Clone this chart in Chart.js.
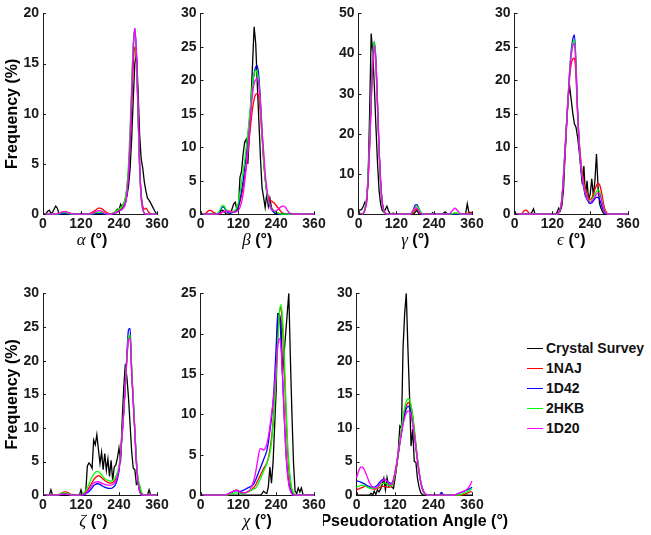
<!DOCTYPE html>
<html><head><meta charset="utf-8">
<script src="https://cdn.jsdelivr.net/npm/chart.js@4.4.1/dist/chart.umd.min.js"></script>
<style>
html,body{margin:0;padding:0;background:#fff}
body{width:651px;height:535px;overflow:hidden;position:relative;font-family:'Liberation Sans',Arial,Helvetica,sans-serif}
canvas{position:absolute;left:0;top:0}
#legend{position:absolute;left:527px;top:338px}
.row{height:20px;display:flex;align-items:center;font-weight:bold;font-size:14px;color:#111;white-space:nowrap}
.sw{width:16px;height:0;border-top:1.4px solid;margin-right:3px}
</style></head><body>
<div id="legend"></div>
<script>
// ---------------- DATA ----------------
const angles = [0,5,10,15,20,25,30,35,40,45,50,55,
  60,65,70,75,80,85,90,95,100,105,110,115,
  120,125,130,135,140,145,150,155,160,165,170,175,
  180,185,190,195,200,205,210,215,220,225,230,235,
  240,245,250,255,260,265,270,275,280,285,290,295,
  300,305,310,315,320,325,330,335,340,345,350,355,
  360];
const seriesNames = ['Crystal Survey','1NAJ','1D42','2HKB','1D20'];
const seriesColors = ['#000000','#ff0000','#0000ff','#00ff00','#ff00ff'];
const xTickValues = [0,120,240,360];
const panelSymbols = ['α','β','γ','ϵ','ζ','χ','Pseudorotation Angle'];
const yAxisMax = [20,30,50,30,30,25,30];
const yAxisStep = [5,5,10,5,5,5,5];

// alpha
const alphaCrystal = [0,0,0.1,0.3,0.4,0.1,0.2,0.5,0.8,0.6,0.1,0,
  0,0,0,0,0,0,0,0,0,0,0,0,
  0.1,0,0,0,0,0,0,0,0,0,0,0,
  0,0,0,0,0,0,0,0,0,0.1,0.3,0.5,
  0.4,1.0,0.7,1.1,1.3,1.8,2.8,4.5,7.5,11.5,15,16,
  12.5,8,5.5,4.6,3.2,2.3,1.6,1.4,1.1,0.8,0.5,0.2,
  0];
const alpha1NAJ = [0,0,0,0,0,0,0,0,0,0,0.05,0.1,
  0.2,0.25,0.25,0.2,0.15,0.1,0.05,0,0,0,0,0,
  0,0,0,0,0,0.05,0.1,0.2,0.3,0.4,0.5,0.6,
  0.6,0.55,0.45,0.3,0.2,0.1,0.05,0.05,0.1,0.15,0.2,0.3,
  0.4,0.5,0.7,1.0,1.6,2.6,4.2,7,11,14.8,16.7,15.5,
  10.5,5,2,0.8,0.5,0.6,0.4,0.15,0.05,0,0,0,
  0];
const alpha1D42 = [0,0,0,0,0,0,0,0,0,0,0,0.02,
  0.05,0.05,0.05,0.05,0.03,0,0,0,0,0,0,0,
  0,0,0,0,0,0,0,0.02,0.05,0.08,0.1,0.1,
  0.1,0.08,0.05,0.02,0,0,0,0,0.05,0.1,0.15,0.2,
  0.3,0.4,0.5,0.7,1.1,2.0,4.0,7.5,12,16.5,18.5,16,
  10.5,5,1.8,0.5,0.1,0,0,0,0,0,0,0,
  0];
const alpha2HKB = [0,0,0,0,0,0,0,0,0,0.02,0.05,0.1,
  0.15,0.15,0.15,0.12,0.08,0.05,0.02,0,0,0,0,0,
  0,0,0,0,0,0,0.02,0.05,0.1,0.15,0.2,0.2,
  0.2,0.18,0.15,0.1,0.05,0.02,0,0.02,0.1,0.2,0.3,0.4,
  0.5,0.6,0.8,1.1,1.6,2.8,5.0,8.5,13,17,18.3,15.5,
  10,4.5,1.6,0.5,0.1,0.05,0,0,0,0,0,0,
  0];
const alpha1D20 = [0,0,0,0,0,0,0,0,0,0.05,0.1,0.15,
  0.2,0.25,0.25,0.2,0.15,0.1,0.05,0,0,0,0,0,
  0,0,0,0,0,0,0.05,0.1,0.15,0.25,0.3,0.35,
  0.35,0.3,0.2,0.1,0.05,0,0,0,0.05,0.1,0.15,0.2,
  0.3,0.4,0.5,0.7,1.0,2.0,4.0,7.5,12,16.5,18.5,16,
  10.5,5,1.8,0.5,0.1,0,0,0,0,0,0,0,
  0];

// beta
const betaCrystal = [0,0,0,0,0,0,0,0,0,0,0,0,
  0.2,0.5,0.6,0.4,0.1,0,0,0.1,0.8,1.5,1.8,0.7,
  0.6,5.5,6.4,9,10.8,11.2,7.5,12,17,22.5,28,25.5,
  19.5,14,8.5,4,2.5,1.0,3.0,1.2,2.4,1.0,0.6,0.2,
  0,0,0,0,0,0,0,0,0,0,0,0,
  0,0,0,0,0,0,0,0,0,0,0,0,
  0];
const beta1NAJ = [0,0,0,0.1,0.3,0.5,0.6,0.5,0.3,0.2,0.1,0.1,
  0.1,0.2,0.3,0.4,0.5,0.5,0.5,0.4,0.4,0.4,0.5,0.7,
  1.1,1.8,2.8,4.0,5.5,7.2,9.2,11.5,13.8,15.8,17.2,17.9,
  18,17.5,15,11.5,8,5.3,3.5,2.5,2.1,2.0,1.8,1.6,
  1.3,1.0,0.7,0.4,0.2,0.1,0,0,0,0,0,0,
  0,0,0,0,0,0,0,0,0,0,0,0,
  0];
const beta1D42 = [0,0,0,0,0,0,0,0,0,0,0.05,0.1,
  0.3,0.8,1.1,1.0,0.6,0.3,0.2,0.2,0.2,0.3,0.4,0.7,
  1.2,2.2,3.5,5,7,9,11.5,14,16.5,19,21,22,
  22.2,20.5,17,12.5,8.5,5.5,3.3,2,1.2,0.7,0.4,0.2,
  0.1,0,0,0,0,0,0,0,0,0,0,0,
  0,0,0,0,0,0,0,0,0,0,0,0,
  0];
const beta2HKB = [0,0,0,0,0,0,0,0,0,0,0.05,0.2,
  0.5,1.0,1.3,1.2,0.8,0.5,0.4,0.3,0.3,0.4,0.6,1.0,
  1.8,3.2,4.8,6.3,8,10,12,14.5,17,19.5,21,21.5,
  21.2,19.5,16,12,8.2,5.3,3.3,2,1.3,0.9,0.6,0.4,
  0.3,0.2,0.1,0,0,0,0,0,0,0,0,0,
  0,0,0,0,0,0,0,0,0,0,0,0,
  0];
const beta1D20 = [0,0,0,0,0,0,0,0,0,0,0,0.05,
  0.1,0.2,0.3,0.4,0.45,0.45,0.4,0.35,0.3,0.3,0.3,0.4,
  0.6,1.0,1.8,3.0,4.8,7.0,9.5,12.5,15.5,18,19.5,20.1,
  20.3,19.3,16.5,12.5,9.5,6.2,4.0,2.4,1.4,0.8,0.6,0.5,
  0.5,0.7,0.9,1.1,1.2,1.2,1.0,0.6,0.3,0.1,0,0,
  0,0,0,0,0,0,0,0,0,0,0,0,
  0];

// gamma
const gammaCrystal = [1.0,1.0,1.2,2.0,3.0,2.5,8,25,45,40,32,22,
  13,6,2.5,1.0,0.5,1.2,2.0,0.8,0.2,0,0.3,0,
  0,0,0,0,0,0,0,0,0,0,0,0,
  0.5,1.0,0.3,0,0,0,0,0,0,0,0,0.4,
  0,0,0,0,0,0,0.3,0.6,0.2,0,0,0,
  0,0,0,0,0,0,0,0,0.2,2.6,0.5,0.3,
  0.5];
const gamma1NAJ = [0.3,0.2,0.1,0.2,1.0,3.0,8.0,16.5,27.5,37.5,41,37,
  27,16,8,3.0,1.0,0.3,0.1,0,0,0,0,0,
  0,0,0,0,0,0,0,0,0,0,0.2,0.6,
  1.1,1.3,1.1,0.6,0.2,0.05,0,0,0,0,0,0,
  0,0,0,0,0,0,0,0,0,0,0,0,
  0,0,0,0,0,0,0,0.05,0.1,0.2,0.3,0.3,
  0.3];
const gamma1D42 = [0,0,0,0.2,1.2,3.5,9,18,30,39.5,43,38.5,
  28,16.5,8,3,1.0,0.2,0.05,0,0,0,0,0,
  0,0,0,0,0,0,0,0,0,0.1,0.5,1.3,
  2.3,2.4,1.7,0.8,0.2,0.05,0,0,0,0,0,0,
  0,0,0,0,0,0,0,0,0,0,0,0,
  0,0,0,0,0,0,0,0,0,0,0,0,
  0];
const gamma2HKB = [0,0,0,0.3,1.3,3.8,9.5,18.5,30,39.5,43,37.5,
  27,15.5,7.5,2.7,0.8,0.2,0.05,0,0,0,0,0,
  0,0,0,0,0,0,0,0,0,0.1,0.4,1.0,
  1.8,2.0,1.5,0.8,0.3,0.05,0,0,0,0,0,0,
  0,0,0,0,0,0,0,0,0,0,0.05,0.1,
  0.2,0.3,0.3,0.2,0.1,0,0,0,0,0,0,0,
  0];
const gamma1D20 = [0,0,0,0.2,1.0,3.0,8.2,16.6,27.8,37.8,42,37.8,
  27.8,16.6,8.2,3.0,1.0,0.2,0,0,0,0,0,0,
  0,0,0,0,0,0,0,0,0,0.1,0.5,1.1,
  1.6,1.5,0.9,0.3,0.1,0,0,0,0,0,0,0,
  0,0,0,0,0,0,0,0,0,0,0.2,0.6,
  1.1,1.5,1.3,0.8,0.3,0.1,0,0,0,0,0,0,
  0];

// epsilon
const epsCrystal = [0,0,0,0,0,0,0,0,0,0,0,0.3,
  0.8,0,0,0,0,0,0,0,0,0,0,0,
  0,0,0,0.3,0.9,0.5,1.2,3.5,8.5,13.5,17.5,19,
  17,15,13.5,13,11.5,9.5,7,4.5,7.2,2.6,5.0,2.1,
  3.0,5.3,2.8,5.0,9.0,4.0,1.5,0.8,0.3,0,0,0,
  0,0,0,0,0,0,0,0,0,0,0,0,
  0];
const eps1NAJ = [0,0,0,0,0,0.2,0.5,0.6,0.5,0.2,0.05,0,
  0,0,0,0,0,0,0,0,0,0,0,0,
  0,0,0,0,0.2,0.7,2,5,9,13,17,20.5,
  22.5,23.2,23.3,20.5,15,11,8.2,6.2,4.8,3.7,2.9,2.4,
  2.2,2.4,3.0,3.7,4.3,4.6,4.4,3.5,2.2,1.0,0.4,0.1,
  0,0,0,0,0,0,0,0,0,0,0,0,
  0];
const eps1D42 = [0,0,0,0,0,0,0,0,0,0,0,0,
  0,0,0,0,0,0,0,0,0,0,0,0,
  0,0,0,0,0.2,0.8,2.2,5.5,9.5,13.5,17.5,21.5,
  24.5,26.2,26.8,22.5,15.5,10.5,7.2,5.2,3.8,2.8,2.2,1.8,
  1.6,1.7,2.0,2.3,2.5,2.5,2.2,1.5,0.8,0.35,0.1,0,
  0,0,0,0,0,0,0,0,0,0,0,0,
  0];
const eps2HKB = [0,0,0,0,0,0,0,0,0,0,0,0,
  0,0,0,0,0,0,0,0,0,0,0,0,
  0,0,0,0,0.2,0.8,2.2,5.5,9.5,13.5,17.5,21.5,
  24,25.6,26,22,15.2,10.5,7.5,5.6,4.2,3.2,2.5,2.1,
  1.9,2.1,2.5,3.0,3.4,3.6,3.4,2.6,1.5,0.6,0.2,0.05,
  0,0,0,0,0,0,0,0,0,0,0,0,
  0];
const eps1D20 = [0,0,0,0,0,0,0,0,0,0,0,0,
  0,0,0,0,0,0,0,0,0,0,0,0,
  0,0,0,0,0.2,0.8,2.2,5.5,9.5,13.5,17.5,21.3,
  23.8,25.2,25.5,21.8,15.3,10.8,7.6,5.6,4.1,3.1,2.4,2.0,
  1.8,1.9,2.2,2.6,3.0,3.2,3.0,2.3,1.3,0.5,0.15,0.05,
  0,0,0,0,0,0,0,0,0,0,0,0,
  0];

// zeta
const zetaCrystal = [0,0,0,0,0,0.8,0,0,0,0,0,0,
  0,0,0,0,0,0,0,0,0,0,0,0,
  0.8,0,0,0.5,4.3,4.8,4.5,4.0,8.2,7.5,9.0,6.8,
  4.7,6.4,3.8,6.2,3.7,5.4,2.8,5.2,2.2,4.2,4.5,5.5,
  7.0,5.0,11,16,19.5,17.5,14.5,10.5,6.5,4.0,3.8,1.6,
  1.8,1.2,0.3,0,0,0,0,0.8,0,0,0,0,
  0];
const zeta1NAJ = [0,0,0,0,0,0,0,0,0,0.05,0.1,0.2,
  0.35,0.45,0.5,0.45,0.35,0.2,0.1,0.05,0,0,0,0,
  0.05,0.1,0.2,0.4,0.7,1.1,1.5,1.9,2.3,2.6,2.8,2.9,
  2.8,2.6,2.4,2.2,2.0,1.9,1.8,1.8,1.9,2.1,2.4,3.0,
  4.0,6.2,9.3,12.5,16.5,20.5,23.3,23.5,18.5,14,9.5,5,
  2.2,0.8,0.2,0,0,0,0,0,0,0,0,0,
  0];
const zeta1D42 = [0,0,0,0,0,0,0,0,0,0.02,0.05,0.1,
  0.15,0.2,0.2,0.15,0.1,0.05,0,0,0,0,0,0,
  0,0.05,0.1,0.2,0.35,0.55,0.8,1.1,1.4,1.6,1.7,1.7,
  1.6,1.45,1.3,1.2,1.1,1.05,1.0,1.0,1.1,1.3,1.7,2.4,
  3.6,6,9,12.5,16.5,21,24.6,24.8,18.5,14,9.5,4.8,
  2,0.6,0.1,0,0,0,0,0,0,0,0,0,
  0];
const zeta2HKB = [0,0,0,0,0,0,0,0,0,0.05,0.1,0.2,
  0.3,0.35,0.35,0.3,0.2,0.1,0.05,0,0,0,0,0,
  0.1,0.2,0.4,0.7,1.1,1.6,2.2,2.7,3.1,3.4,3.5,3.5,
  3.3,3.0,2.7,2.5,2.3,2.2,2.1,2.1,2.2,2.4,2.8,3.4,
  4.4,6.5,9.3,12.5,16.5,20.5,23.5,23.8,19,14.5,10,5.5,
  2.6,1.6,0.6,0.2,0,0,0,0,0,0,0,0,
  0];
const zeta1D20 = [0,0,0,0,0,0,0,0,0,0.02,0.05,0.1,
  0.15,0.2,0.2,0.15,0.1,0.05,0,0,0,0,0,0,
  0,0.05,0.15,0.3,0.55,0.85,1.2,1.5,1.8,1.95,2.0,2.0,
  1.9,1.8,1.7,1.6,1.55,1.5,1.5,1.5,1.6,1.8,2.1,2.8,
  3.9,6.0,9.0,12.3,16.3,20.3,23.1,23.3,18.3,13.8,9.3,4.7,
  1.9,0.6,0.1,0,0,0,0,0,0,0,0,0,
  0];

// chi
const chiCrystal = [0,0,0,0,0,0,0,0,0,0,0,0,
  0,0,0,0,0,0,0,0,0,0,0,0,
  0,0,0,0,0,0,0,0,0,0,0,0,
  0,0,0,0.2,0.5,0.3,0.2,1.0,3.5,1.5,4,8.5,
  13,22.5,22.5,21.5,15,17.5,20,22.5,25,17,10,4,
  0.5,0.2,0.9,0.4,0.9,0.1,0,0,0,0,0,0,
  0];
const chi1NAJ = [0,0,0,0,0,0,0,0,0,0,0,0,
  0,0,0,0,0,0.05,0.1,0.2,0.35,0.5,0.6,0.65,
  0.55,0.4,0.3,0.3,0.3,0.35,0.4,0.5,0.6,0.8,1.0,1.3,
  1.7,2.1,2.5,2.9,3.3,3.6,4.0,4.6,5.6,7,9,12,
  15.5,19.5,22.5,23.3,21,16.5,11,6.5,3.3,1.5,0.6,0.2,
  0,0,0,0,0,0,0,0,0,0,0,0,
  0];
const chi1D42 = [0,0,0,0,0,0,0,0,0,0,0,0,
  0,0,0,0,0.05,0.1,0.2,0.3,0.4,0.5,0.55,0.55,
  0.5,0.45,0.5,0.6,0.7,0.8,0.9,1.0,1.1,1.2,1.5,1.9,
  2.4,2.9,3.4,3.9,4.4,4.9,5.5,6.5,8,9.5,11.5,14.5,
  18.5,22.3,22.5,19.5,15,10,6,3.2,1.6,0.7,0.3,0.1,
  0,0,0,0,0,0,0,0,0,0,0,0,
  0];
const chi2HKB = [0,0,0,0,0,0,0,0,0,0,0,0,
  0,0,0,0,0.02,0.05,0.1,0.15,0.2,0.25,0.3,0.3,
  0.25,0.2,0.2,0.2,0.25,0.3,0.4,0.5,0.6,0.7,0.8,0.9,
  1.2,1.6,2.0,2.5,3.0,3.4,3.9,4.5,5.2,6.5,8.5,11.5,
  15,19,22.5,23.6,22,18,12.5,7.5,4.0,2.0,0.8,0.3,
  0,0,0,0,0,0,0,0,0,0,0,0,
  0];
const chi1D20 = [0,0,0,0,0,0,0,0,0,0,0,0,
  0,0,0,0,0.05,0.1,0.2,0.3,0.4,0.5,0.6,0.6,
  0.5,0.4,0.3,0.3,0.3,0.35,0.45,0.6,0.9,1.4,2.0,2.9,
  4.0,5.2,5.8,5.7,5.6,5.8,6.3,7.2,8.5,10,11.5,13.5,
  16,18.5,19.4,18.3,15,10.5,6,3,1.3,0.5,0.15,0,
  0,0,0,0,0,0,0,0,0,0,0,0,
  0];

// pseudorotation
const pseudoCrystal = [0,0,0,0,0,0,0,0,0,0.3,0,0.6,
  0.1,0.8,0.5,0.9,1.6,2.5,0.8,2.6,1.3,1.6,1.2,1.0,
  2.5,4.3,6.5,10.3,10,22,27,30,22,15,7.3,9.8,
  5,4.9,2.5,1.2,0.4,0.1,0,0,0,0,0,0,
  0,0,0,0,0,0,0,0,0,0,0,0,
  0,0,0,0,0,0,0,0,0,0,0,0,
  0];
const pseudo1NAJ = [0.8,0.9,1.0,1.1,1.2,1.3,1.3,1.2,1.1,1.0,0.95,0.9,
  0.9,1.0,1.1,1.2,1.3,1.3,1.3,1.2,1.2,1.2,1.4,2.0,
  3.0,4.3,6.0,7.8,9.6,11.2,12.5,13.3,13.7,13.8,13.2,11.8,
  9.8,7.6,5.4,3.5,2.0,1.0,0.4,0.15,0.05,0,0,0,
  0,0,0,0,0,0,0,0,0,0,0,0,
  0,0,0,0,0,0,0.05,0.1,0.2,0.3,0.4,0.5,
  0.5];
const pseudo1D42 = [2.1,2.1,2.0,1.9,1.8,1.7,1.5,1.4,1.3,1.2,1.2,1.2,
  1.3,1.5,1.8,2.1,2.3,2.4,2.3,2.1,1.9,1.8,1.8,2.3,
  3.3,4.6,6.2,7.8,9.3,10.8,12,12.8,13.2,13.1,12.4,11,
  9.2,7.2,5.2,3.4,2.0,1.0,0.4,0.15,0.05,0,0,0,
  0,0,0,0,0.1,0.4,0.1,0,0,0,0,0,
  0,0,0.1,0.2,0.3,0.4,0.5,0.6,0.7,0.8,0.9,1.0,
  1.2];
const pseudo2HKB = [1.2,1.3,1.4,1.5,1.5,1.4,1.3,1.2,1.1,1.0,1.0,1.0,
  1.0,1.1,1.3,1.5,1.7,1.8,1.8,1.7,1.5,1.4,1.5,2.1,
  3.2,4.6,6.3,8.2,10,11.7,13,13.9,14.3,14.2,13.3,11.7,
  9.6,7.4,5.3,3.5,2.1,1.1,0.5,0.2,0.05,0,0,0,
  0,0,0,0,0,0,0,0,0,0,0,0,
  0,0,0,0,0.05,0.1,0.2,0.3,0.4,0.5,0.6,0.8,
  1.0];
const pseudo1D20 = [2.6,3.4,4.0,4.2,4.1,3.7,3.1,2.5,1.9,1.5,1.2,1.1,
  1.1,1.2,1.5,1.8,2.1,2.3,2.3,2.1,1.8,1.6,1.7,2.3,
  3.5,4.8,6.3,7.8,9.2,10.5,11.5,12.2,12.5,12.5,11.8,10.5,
  8.8,7,5,3.4,2.0,1.1,0.5,0.2,0.05,0,0,0,
  0,0,0,0,0,0,0,0,0,0,0,0,
  0,0.05,0.1,0.2,0.3,0.4,0.5,0.6,0.7,0.9,1.2,1.6,
  2.1];

const panelSeries = [
  [alphaCrystal, alpha1NAJ, alpha1D42, alpha2HKB, alpha1D20],
  [betaCrystal, beta1NAJ, beta1D42, beta2HKB, beta1D20],
  [gammaCrystal, gamma1NAJ, gamma1D42, gamma2HKB, gamma1D20],
  [epsCrystal, eps1NAJ, eps1D42, eps2HKB, eps1D20],
  [zetaCrystal, zeta1NAJ, zeta1D42, zeta2HKB, zeta1D20],
  [chiCrystal, chi1NAJ, chi1D42, chi2HKB, chi1D20],
  [pseudoCrystal, pseudo1NAJ, pseudo1D42, pseudo2HKB, pseudo1D20]
];

// ---------------- LAYOUT ----------------
const panelBoxes = [
  {left:43, top:13, w:114, h:201, ylab:true, shift:-8},
  {left:201, top:13, w:113, h:201, ylab:false, shift:0},
  {left:359, top:13, w:113, h:201, ylab:false, shift:0},
  {left:515, top:13, w:113, h:201, ylab:false, shift:0},
  {left:43, top:293, w:114, h:202, ylab:true, shift:-6.5},
  {left:201, top:293, w:113, h:202, ylab:false, shift:0},
  {left:357, top:293, w:115, h:202, ylab:false, shift:0}
];
const SANS = "'Liberation Sans', Arial, Helvetica, sans-serif";
const SERIF = "'Liberation Serif', 'DejaVu Serif', 'Times New Roman', serif";
const AXIS_COLOR = '#1a1a1a';

const innerTicksAndTitle = {
  id: 'innerTicksAndTitle',
  afterDraw(chart, args, opts) {
    const ctx = chart.ctx, a = chart.chartArea;
    const xs = chart.scales.x, ys = chart.scales.y;
    ctx.save();
    ctx.strokeStyle = AXIS_COLOR; ctx.lineWidth = 1;
    ctx.beginPath();
    xs.ticks.forEach(t => {
      const px = Math.round(xs.getPixelForValue(t.value)) + 0.5;
      ctx.moveTo(px, a.bottom); ctx.lineTo(px, a.bottom - 3);
    });
    ys.ticks.forEach(t => {
      const py = Math.round(ys.getPixelForValue(t.value)) + 0.5;
      ctx.moveTo(a.left, py); ctx.lineTo(a.left + 3, py);
    });
    ctx.stroke();
    // x-axis title (mixed fonts)
    const sym = opts.sym;
    const rest = ' (°)';
    const cy = a.bottom + 26;
    const cx = (a.left + a.right) / 2 + (opts.shift || 0);
    ctx.fillStyle = '#000';
    ctx.textBaseline = 'middle';
    ctx.textAlign = 'left';
    if (sym.length === 1) {
      const f1 = 'italic 17px ' + SERIF;
      const f2 = 'bold 16px ' + SANS;
      ctx.font = f1; const w1 = ctx.measureText(sym).width;
      ctx.font = f2; const w2 = ctx.measureText(rest).width;
      const x0 = cx - (w1 + w2) / 2;
      ctx.font = f1; ctx.fillText(sym, x0, cy);
      ctx.font = f2; ctx.fillText(rest, x0 + w1, cy);
    } else {
      ctx.font = 'bold 16px ' + SANS;
      ctx.textAlign = 'center';
      ctx.fillText(sym + rest, cx, cy);
    }
    ctx.restore();
  }
};

function makeConfig(i) {
  const box = panelBoxes[i];
  const series = panelSeries[i];
  const yScale = {
    type: 'linear', min: 0, max: yAxisMax[i],
    ticks: {stepSize: yAxisStep[i], color: AXIS_COLOR, padding: 4,
      font: {family: SANS, size: 14, weight: 'bold'}},
    grid: {display: false, drawTicks: false},
    border: {display: true, color: AXIS_COLOR, width: 1},
    title: {display: box.ylab, text: 'Frequency (%)', color: '#000',
      font: {family: SANS, size: 16, weight: 'bold'}, padding: {top: 4, bottom: 4}}
  };
  if (box.ylab) yScale.afterFit = s => { s.width = 44; };
  return {
    type: 'line',
    data: {
      datasets: series.map((vals, k) => ({
        label: seriesNames[k],
        data: angles.map((a, j) => ({x: a, y: vals[j]})),
        borderColor: seriesColors[k],
        backgroundColor: seriesColors[k],
        borderWidth: 1.3,
        pointRadius: 0,
        fill: false,
        tension: 0,
        cubicInterpolationMode: k === 0 ? 'default' : 'monotone',
        clip: false,
        order: 5 - k
      }))
    },
    options: {
      responsive: false,
      maintainAspectRatio: false,
      animation: false,
      devicePixelRatio: 1,
      events: [],
      layout: {padding: {left: 10, right: 40, top: 6, bottom: 22}},
      plugins: {
        legend: {display: false},
        tooltip: {enabled: false},
        innerTicksAndTitle: {sym: panelSymbols[i], shift: box.shift}
      },
      scales: {
        x: {
          type: 'linear', min: 0, max: 360,
          afterBuildTicks: s => { s.ticks = xTickValues.map(v => ({value: v})); },
          ticks: {color: AXIS_COLOR, padding: 2, maxRotation: 0, autoSkip: false,
            font: {family: SANS, size: 14, weight: 'bold'}},
          grid: {display: false, drawTicks: false},
          border: {display: true, color: AXIS_COLOR, width: 1},
          title: {display: false, text: panelSymbols[i] + ' (°)'}
        },
        y: yScale
      }
    },
    plugins: [innerTicksAndTitle]
  };
}

function makeChart(i, W, H) {
  const cv = document.createElement('canvas');
  cv.width = W; cv.height = H;
  cv.style.width = W + 'px'; cv.style.height = H + 'px';
  document.body.appendChild(cv);
  const chart = new Chart(cv, makeConfig(i));
  return {cv, chart};
}

function buildPanel(i) {
  const box = panelBoxes[i];
  const W0 = box.w + 110, H0 = box.h + 60;
  let r = makeChart(i, W0, H0);
  let ca = r.chart.chartArea;
  const W1 = Math.round(W0 + box.w - (ca.right - ca.left));
  const H1 = Math.round(H0 + box.h - (ca.bottom - ca.top));
  r.chart.destroy(); r.cv.remove();
  r = makeChart(i, W1, H1);
  ca = r.chart.chartArea;
  r.cv.style.left = Math.round(box.left - ca.left) + 'px';
  r.cv.style.top = Math.round(box.top - ca.top) + 'px';
}

for (let i = 0; i < panelBoxes.length; i++) buildPanel(i);

// legend
const lg = document.getElementById('legend');
seriesNames.forEach((n, k) => {
  const row = document.createElement('div'); row.className = 'row';
  const sw = document.createElement('span'); sw.className = 'sw'; sw.style.borderTopColor = seriesColors[k];
  const tx = document.createElement('span'); tx.textContent = n;
  row.appendChild(sw); row.appendChild(tx); lg.appendChild(row);
});
</script>
</body></html>
